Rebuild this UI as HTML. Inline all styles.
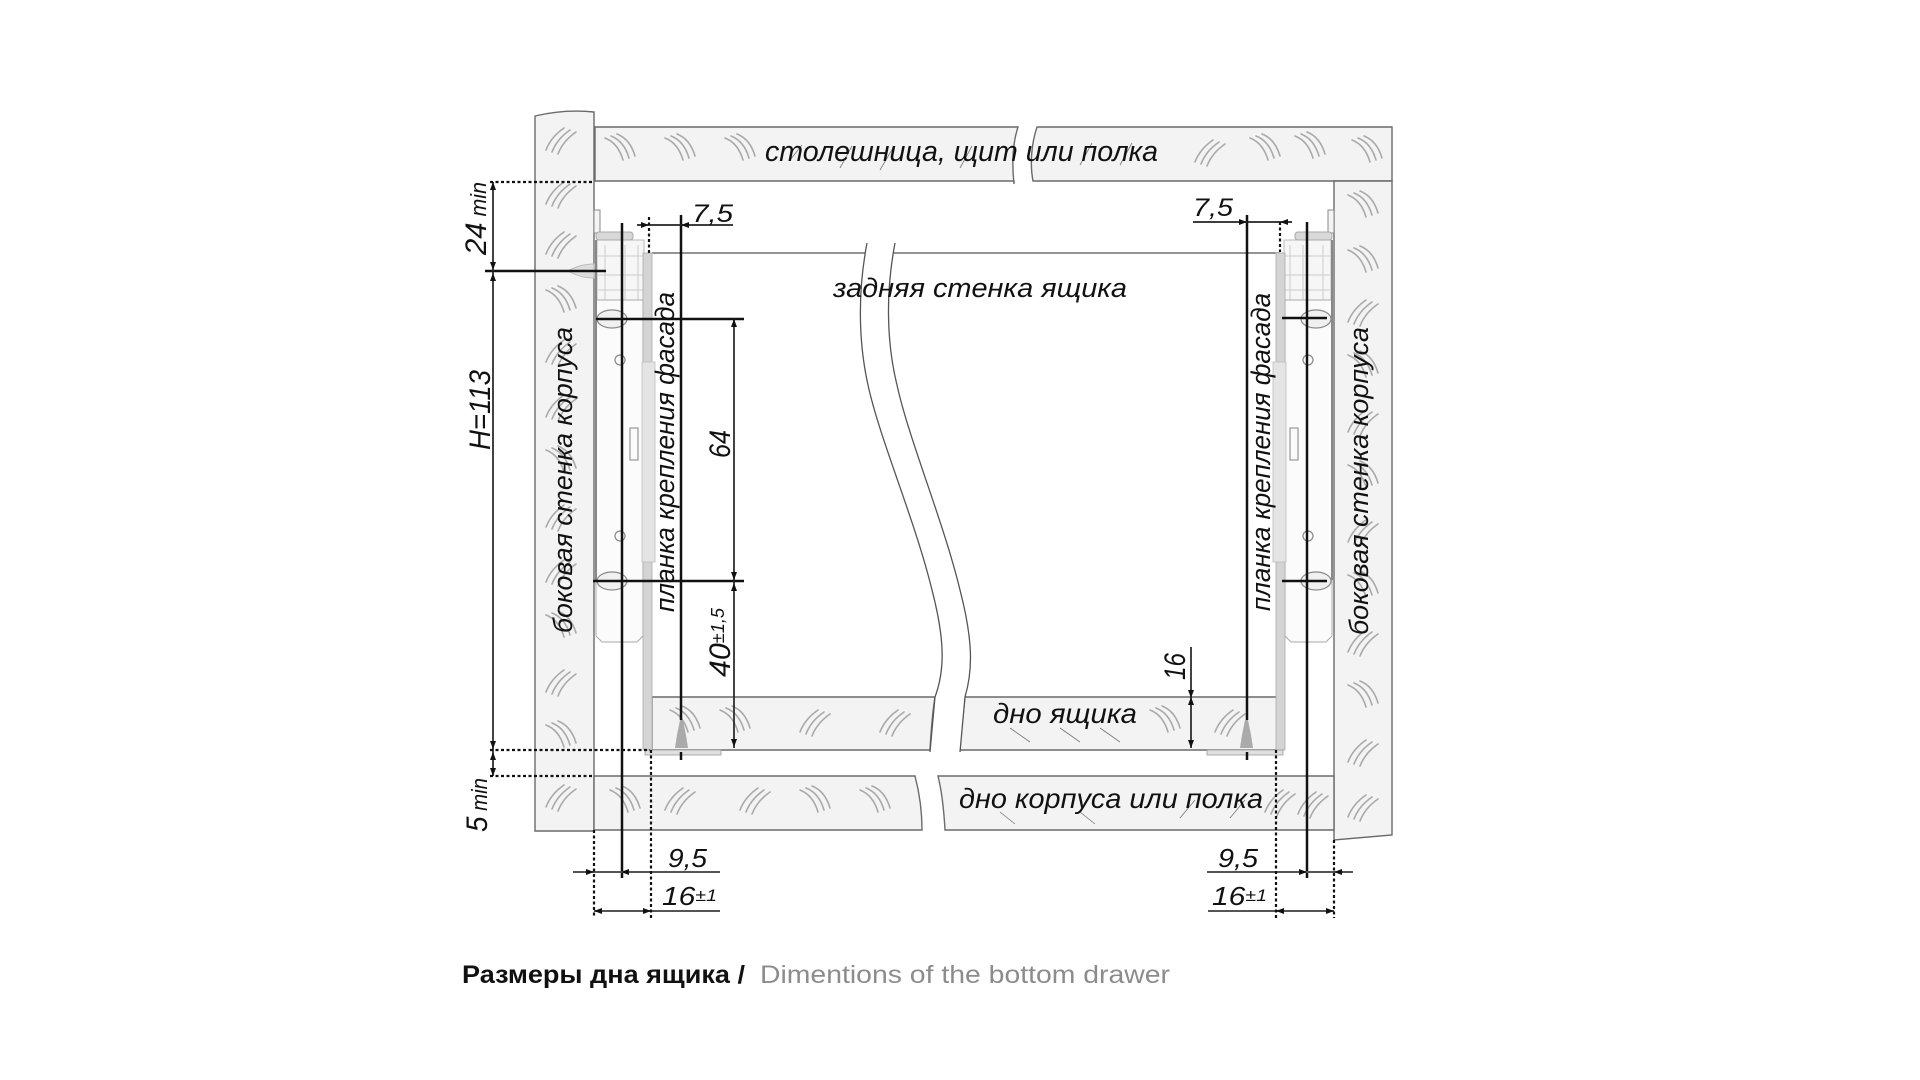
<!DOCTYPE html>
<html>
<head>
<meta charset="utf-8">
<style>
html,body{margin:0;padding:0;background:#fff;}
svg{display:block;}
.lbl{font-family:"Liberation Sans","DejaVu Sans",sans-serif;font-style:italic;fill:#111;}
.cap{font-family:"Liberation Sans","DejaVu Sans",sans-serif;}
</style>
</head>
<body>
<svg width="1920" height="1080" viewBox="0 0 1920 1080" xmlns="http://www.w3.org/2000/svg">
<defs>
  <g id="hA" fill="none" stroke="#a9a9a9" stroke-width="1.6" stroke-linecap="round">
    <path d="M0,22 Q5,9 18,0"/><path d="M6,24 Q11,11 24,2"/><path d="M12,26 Q17,13 30,4"/>
  </g>
  <g id="hB" fill="none" stroke="#a9a9a9" stroke-width="1.6" stroke-linecap="round">
    <path d="M0,0 Q13,5 18,22"/><path d="M6,-2 Q19,3 24,20"/><path d="M12,-4 Q25,1 30,18"/>
  </g>
  <g id="run">
    <rect x="594" y="210" width="6" height="23" fill="#f4f4f4" stroke="#888" stroke-width="1"/>
    <rect x="597" y="240" width="47" height="62" fill="#f6f6f6" stroke="#bbb" stroke-width="1"/>
    <g stroke="#ccc" stroke-width="1">
      <line x1="605" y1="245" x2="605" y2="300"/><line x1="625" y1="245" x2="625" y2="300"/><line x1="638" y1="245" x2="638" y2="300"/>
      <line x1="598" y1="256" x2="643" y2="256"/><line x1="598" y1="275" x2="643" y2="275"/><line x1="598" y1="290" x2="643" y2="290"/>
    </g>
    <rect x="596" y="232" width="37" height="8" rx="3" fill="#d8d8d8" stroke="#aaa" stroke-width="1"/>
    <path d="M596,300 L643,300 L643,636 L637,642 L602,642 L596,636 Z" fill="#fbfbfb" stroke="#aaa" stroke-width="1"/>
    <line x1="596" y1="240" x2="596" y2="580" stroke="#888" stroke-width="2"/>
    <ellipse cx="612" cy="319" rx="15" ry="9" fill="#f0f0f0" stroke="#888" stroke-width="1.2"/>
    <ellipse cx="612" cy="581" rx="15" ry="9" fill="#f0f0f0" stroke="#888" stroke-width="1.2"/>
    <circle cx="620" cy="360" r="5" fill="none" stroke="#888" stroke-width="1.2"/>
    <circle cx="620" cy="536" r="5" fill="none" stroke="#888" stroke-width="1.2"/>
    <rect x="630" y="428" width="8" height="32" fill="none" stroke="#999" stroke-width="1.2"/>
    <rect x="643" y="253" width="9" height="497" fill="#d4d4d4" stroke="#aaa" stroke-width="0.8"/>
    <rect x="642" y="362" width="13" height="200" fill="#e4e4e4" stroke="#bbb" stroke-width="0.8"/>
    <rect x="645" y="750" width="76" height="5" fill="#e0e0e0" stroke="#999" stroke-width="0.8"/>
    <path d="M675,748 L677,735 L680,720 L683,720 L686,735 L688,748 Z" fill="#aaa"/>
  </g>
</defs>

<rect width="1920" height="1080" fill="#fff"/>

<!-- panels -->
<g fill="#f3f3f3" stroke="#6a6a6a" stroke-width="1.4">
  <path d="M535,116 Q565,109 594,112 L594,831 L535,831 Z"/>
  <path d="M595,127 L1018,127 C1012,145 1012,165 1014,184 L1014,181 L595,181 Z"/>
  <path d="M1037,127 L1392,127 L1392,181 L1033,181 C1030,165 1031,145 1037,127 Z"/>
  <path d="M1334,181 L1392,181 L1392,835 L1334,840 Z"/>
  <path d="M594,776 L915,776 C920,795 922,812 922,830 L594,830 Z"/>
  <path d="M938,776 L1334,776 L1334,830 L945,830 C944,812 942,792 938,776 Z"/>
  <path d="M652,697 L935,697 C932,715 931,733 930,750 L652,750 Z"/>
  <path d="M965,697 L1277,697 L1277,750 L960,750 C961,733 963,715 965,697 Z"/>
</g>

<!-- hatching -->
<g>
  <use href="#hB" x="605" y="138"/><use href="#hB" x="665" y="138"/><use href="#hB" x="725" y="138"/>
  <use href="#hA" x="1195" y="140"/><use href="#hB" x="1250" y="138"/><use href="#hB" x="1295" y="136"/><use href="#hB" x="1352" y="140"/>
  <use href="#hA" x="546" y="128"/><use href="#hA" x="546" y="182"/><use href="#hA" x="546" y="232"/>
  <use href="#hB" x="546" y="290"/><use href="#hA" x="546" y="340"/><use href="#hA" x="546" y="395"/>
  <use href="#hB" x="546" y="450"/><use href="#hA" x="546" y="505"/><use href="#hA" x="546" y="560"/>
  <use href="#hB" x="546" y="615"/><use href="#hA" x="546" y="670"/><use href="#hB" x="546" y="725"/>
  <use href="#hA" x="546" y="785"/>
  <use href="#hB" x="1348" y="195"/><use href="#hB" x="1348" y="250"/><use href="#hA" x="1348" y="300"/>
  <use href="#hB" x="1348" y="355"/><use href="#hA" x="1348" y="410"/><use href="#hB" x="1348" y="465"/>
  <use href="#hA" x="1348" y="520"/><use href="#hB" x="1348" y="575"/><use href="#hA" x="1348" y="630"/>
  <use href="#hB" x="1348" y="685"/><use href="#hA" x="1348" y="740"/><use href="#hA" x="1348" y="795"/>
  <use href="#hB" x="610" y="790"/><use href="#hA" x="665" y="788"/><use href="#hA" x="740" y="788"/>
  <use href="#hB" x="800" y="790"/><use href="#hB" x="860" y="790"/>
  <use href="#hA" x="1265" y="790"/><use href="#hA" x="1298" y="792"/>
  <use href="#hB" x="670" y="710"/><use href="#hB" x="720" y="710"/><use href="#hA" x="800" y="710"/><use href="#hA" x="880" y="710"/>
  <use href="#hB" x="1150" y="710"/><use href="#hA" x="1215" y="710"/>
</g>
<g fill="none" stroke="#777" stroke-width="0.8">
  <path d="M790,160 L802,145"/><path d="M840,168 L852,146"/><path d="M880,170 L893,148"/><path d="M960,168 L972,146"/><path d="M1080,165 L1092,143"/><path d="M1120,165 L1132,143"/>
  <path d="M1010,728 L1030,742"/><path d="M1060,728 L1080,742"/><path d="M1100,728 L1120,742"/>
  <path d="M1000,812 L1015,824"/><path d="M1080,812 L1095,824"/><path d="M1180,818 L1195,800"/><path d="M1230,818 L1245,800"/>
</g>

<!-- back wall top line -->
<line x1="652" y1="253" x2="1280" y2="253" stroke="#555" stroke-width="1.3"/>

<!-- break gap -->
<path d="M867,243 C858,290 858,340 868,385 C880,440 915,520 932,590 C945,640 945,670 935,697 L930,752 L960,752 L965,697 C973,670 973,640 960,590 C943,520 909,440 897,385 C886,340 886,290 895,243 Z" fill="#fff"/>
<g fill="none" stroke="#555" stroke-width="1.3">
  <path d="M867,243 C858,290 858,340 868,385 C880,440 915,520 932,590 C945,640 945,670 935,697 L930,752"/>
  <path d="M895,243 C886,290 886,340 897,385 C909,440 943,520 960,590 C973,640 973,670 965,697 L960,752"/>
</g>

<!-- runners -->
<use href="#run"/>
<use href="#run" transform="translate(1928,0) scale(-1,1)"/>
<path d="M568,271 Q580,264 594,264 L594,278 Q580,278 568,271 Z" fill="#ddd" stroke="#bbb" stroke-width="1"/>

<!-- black extension lines -->
<g stroke="#111" stroke-width="2.5" fill="none">
  <line x1="622" y1="223" x2="622" y2="878"/>
  <line x1="681" y1="215" x2="681" y2="720"/>
  <line x1="681" y1="752" x2="681" y2="760"/>
  <line x1="485" y1="271" x2="606" y2="271"/>
  <line x1="596" y1="319" x2="744" y2="319"/>
  <line x1="593" y1="581" x2="744" y2="581"/>
  <line x1="1307" y1="222" x2="1307" y2="878"/>
  <line x1="1247" y1="215" x2="1247" y2="720"/>
  <line x1="1247" y1="752" x2="1247" y2="760"/>
  <line x1="1282" y1="318" x2="1327" y2="318"/>
  <line x1="1282" y1="581" x2="1327" y2="581"/>
</g>
<g stroke="#222" stroke-width="1.7" fill="none">
  <line x1="493" y1="182" x2="493" y2="776"/>
  <line x1="734" y1="319" x2="734" y2="748"/>
  <line x1="637" y1="225" x2="733" y2="225"/>
  <line x1="1193" y1="222" x2="1292" y2="222"/>
  <line x1="1191" y1="647" x2="1191" y2="748"/>
</g>
<g stroke="#555" stroke-width="2" fill="none">
  <line x1="573" y1="872" x2="720" y2="872"/>
  <line x1="594" y1="911" x2="720" y2="911"/>
  <line x1="1207" y1="872" x2="1353" y2="872"/>
  <line x1="1208" y1="911" x2="1334" y2="911"/>
</g>
<g stroke="#111" stroke-width="2.2" fill="none" stroke-dasharray="3 2.5">
  <line x1="490" y1="182" x2="594" y2="182"/>
  <line x1="490" y1="750" x2="650" y2="750"/>
  <line x1="490" y1="776" x2="594" y2="776"/>
  <line x1="649" y1="217" x2="649" y2="253"/>
  <line x1="1280" y1="222" x2="1280" y2="252"/>
  <line x1="594" y1="830" x2="594" y2="918"/>
  <line x1="651" y1="750" x2="651" y2="918"/>
  <line x1="1276" y1="750" x2="1276" y2="918"/>
  <line x1="1334" y1="840" x2="1334" y2="918"/>
</g>

<!-- arrowheads -->
<g fill="#111">
  <polygon points="493,182 490,190 496,190"/>
  <polygon points="493,270 490,262 496,262"/>
  <polygon points="493,273 490,281 496,281"/>
  <polygon points="493,749 490,741 496,741"/>
  <polygon points="493,752 490,760 496,760"/>
  <polygon points="493,776 490,768 496,768"/>
  <polygon points="734,319 731,327 737,327"/>
  <polygon points="734,580 731,572 737,572"/>
  <polygon points="734,583 731,591 737,591"/>
  <polygon points="734,747 731,739 737,739"/>
  <polygon points="649,225 641,222 641,228"/>
  <polygon points="681,225 689,222 689,228"/>
  <polygon points="1247,222 1239,219 1239,225"/>
  <polygon points="1280,222 1288,219 1288,225"/>
  <polygon points="1191,697 1188,705 1194,705"/>
  <polygon points="1191,698 1188,690 1194,690"/>
  <polygon points="1191,748 1188,740 1194,740"/>
  <polygon points="594,872 586,869 586,875"/>
  <polygon points="621,872 629,869 629,875"/>
  <polygon points="594,911 602,908 602,914"/>
  <polygon points="651,911 643,908 643,914"/>
  <polygon points="1307,872 1299,869 1299,875"/>
  <polygon points="1334,872 1342,869 1342,875"/>
  <polygon points="1276,911 1284,908 1284,914"/>
  <polygon points="1334,911 1326,908 1326,914"/>
</g>

<!-- horizontal labels -->
<text class="lbl" x="765" y="161" font-size="29" textLength="393" lengthAdjust="spacingAndGlyphs">столешница, щит или полка</text>
<text class="lbl" x="833" y="297" font-size="27" textLength="294" lengthAdjust="spacingAndGlyphs">задняя стенка ящика</text>
<text class="lbl" x="993" y="723" font-size="28" textLength="144" lengthAdjust="spacingAndGlyphs">дно ящика</text>
<text class="lbl" x="959" y="808" font-size="28" textLength="304" lengthAdjust="spacingAndGlyphs">дно корпуса или полка</text>

<text class="lbl" x="692" y="222" font-size="25" textLength="41" lengthAdjust="spacingAndGlyphs">7,5</text>
<text class="lbl" x="1193" y="216" font-size="25" textLength="40" lengthAdjust="spacingAndGlyphs">7,5</text>
<text class="lbl" x="668" y="867" font-size="26" textLength="39" lengthAdjust="spacingAndGlyphs">9,5</text>
<text class="lbl" x="1218" y="867" font-size="26" textLength="40" lengthAdjust="spacingAndGlyphs">9,5</text>
<text class="lbl" x="662" y="905" font-size="26" textLength="55" lengthAdjust="spacingAndGlyphs">16<tspan font-size="17" dy="-4">±1</tspan></text>
<text class="lbl" x="1212" y="905" font-size="26" textLength="55" lengthAdjust="spacingAndGlyphs">16<tspan font-size="17" dy="-4">±1</tspan></text>

<!-- rotated labels -->
<text class="lbl" transform="translate(572,633) rotate(-90)" font-size="27" textLength="306" lengthAdjust="spacingAndGlyphs">боковая стенка корпуса</text>
<text class="lbl" transform="translate(674,612) rotate(-90)" font-size="27" textLength="320" lengthAdjust="spacingAndGlyphs">планка крепления фасада</text>
<text class="lbl" transform="translate(1270,611) rotate(-90)" font-size="27" textLength="318" lengthAdjust="spacingAndGlyphs">планка крепления фасада</text>
<text class="lbl" transform="translate(1368,635) rotate(-90)" font-size="27" textLength="308" lengthAdjust="spacingAndGlyphs">боковая стенка корпуса</text>

<text class="lbl" transform="translate(486,255) rotate(-90)" font-size="30" textLength="73" lengthAdjust="spacingAndGlyphs">24<tspan font-size="22"> min</tspan></text>
<text class="lbl" transform="translate(490,450) rotate(-90)" font-size="30" textLength="80" lengthAdjust="spacingAndGlyphs">H=113</text>
<text class="lbl" transform="translate(487,832) rotate(-90)" font-size="30" textLength="54" lengthAdjust="spacingAndGlyphs">5<tspan font-size="22"> min</tspan></text>
<text class="lbl" transform="translate(730,458) rotate(-90)" font-size="30" textLength="28" lengthAdjust="spacingAndGlyphs">64</text>
<text class="lbl" transform="translate(730,677) rotate(-90)" font-size="30" textLength="69" lengthAdjust="spacingAndGlyphs">40<tspan font-size="18" dy="-6">±1,5</tspan></text>
<text class="lbl" transform="translate(1185,680) rotate(-90)" font-size="30" textLength="27" lengthAdjust="spacingAndGlyphs">16</text>

<!-- caption -->
<text class="cap" x="462" y="983" font-size="25" font-weight="bold" fill="#111" textLength="283" lengthAdjust="spacingAndGlyphs">Размеры дна ящика /</text>
<text class="cap" x="760" y="983" font-size="25" fill="#8c8c8c" textLength="410" lengthAdjust="spacingAndGlyphs">Dimentions of the bottom drawer</text>
</svg>
</body>
</html>
